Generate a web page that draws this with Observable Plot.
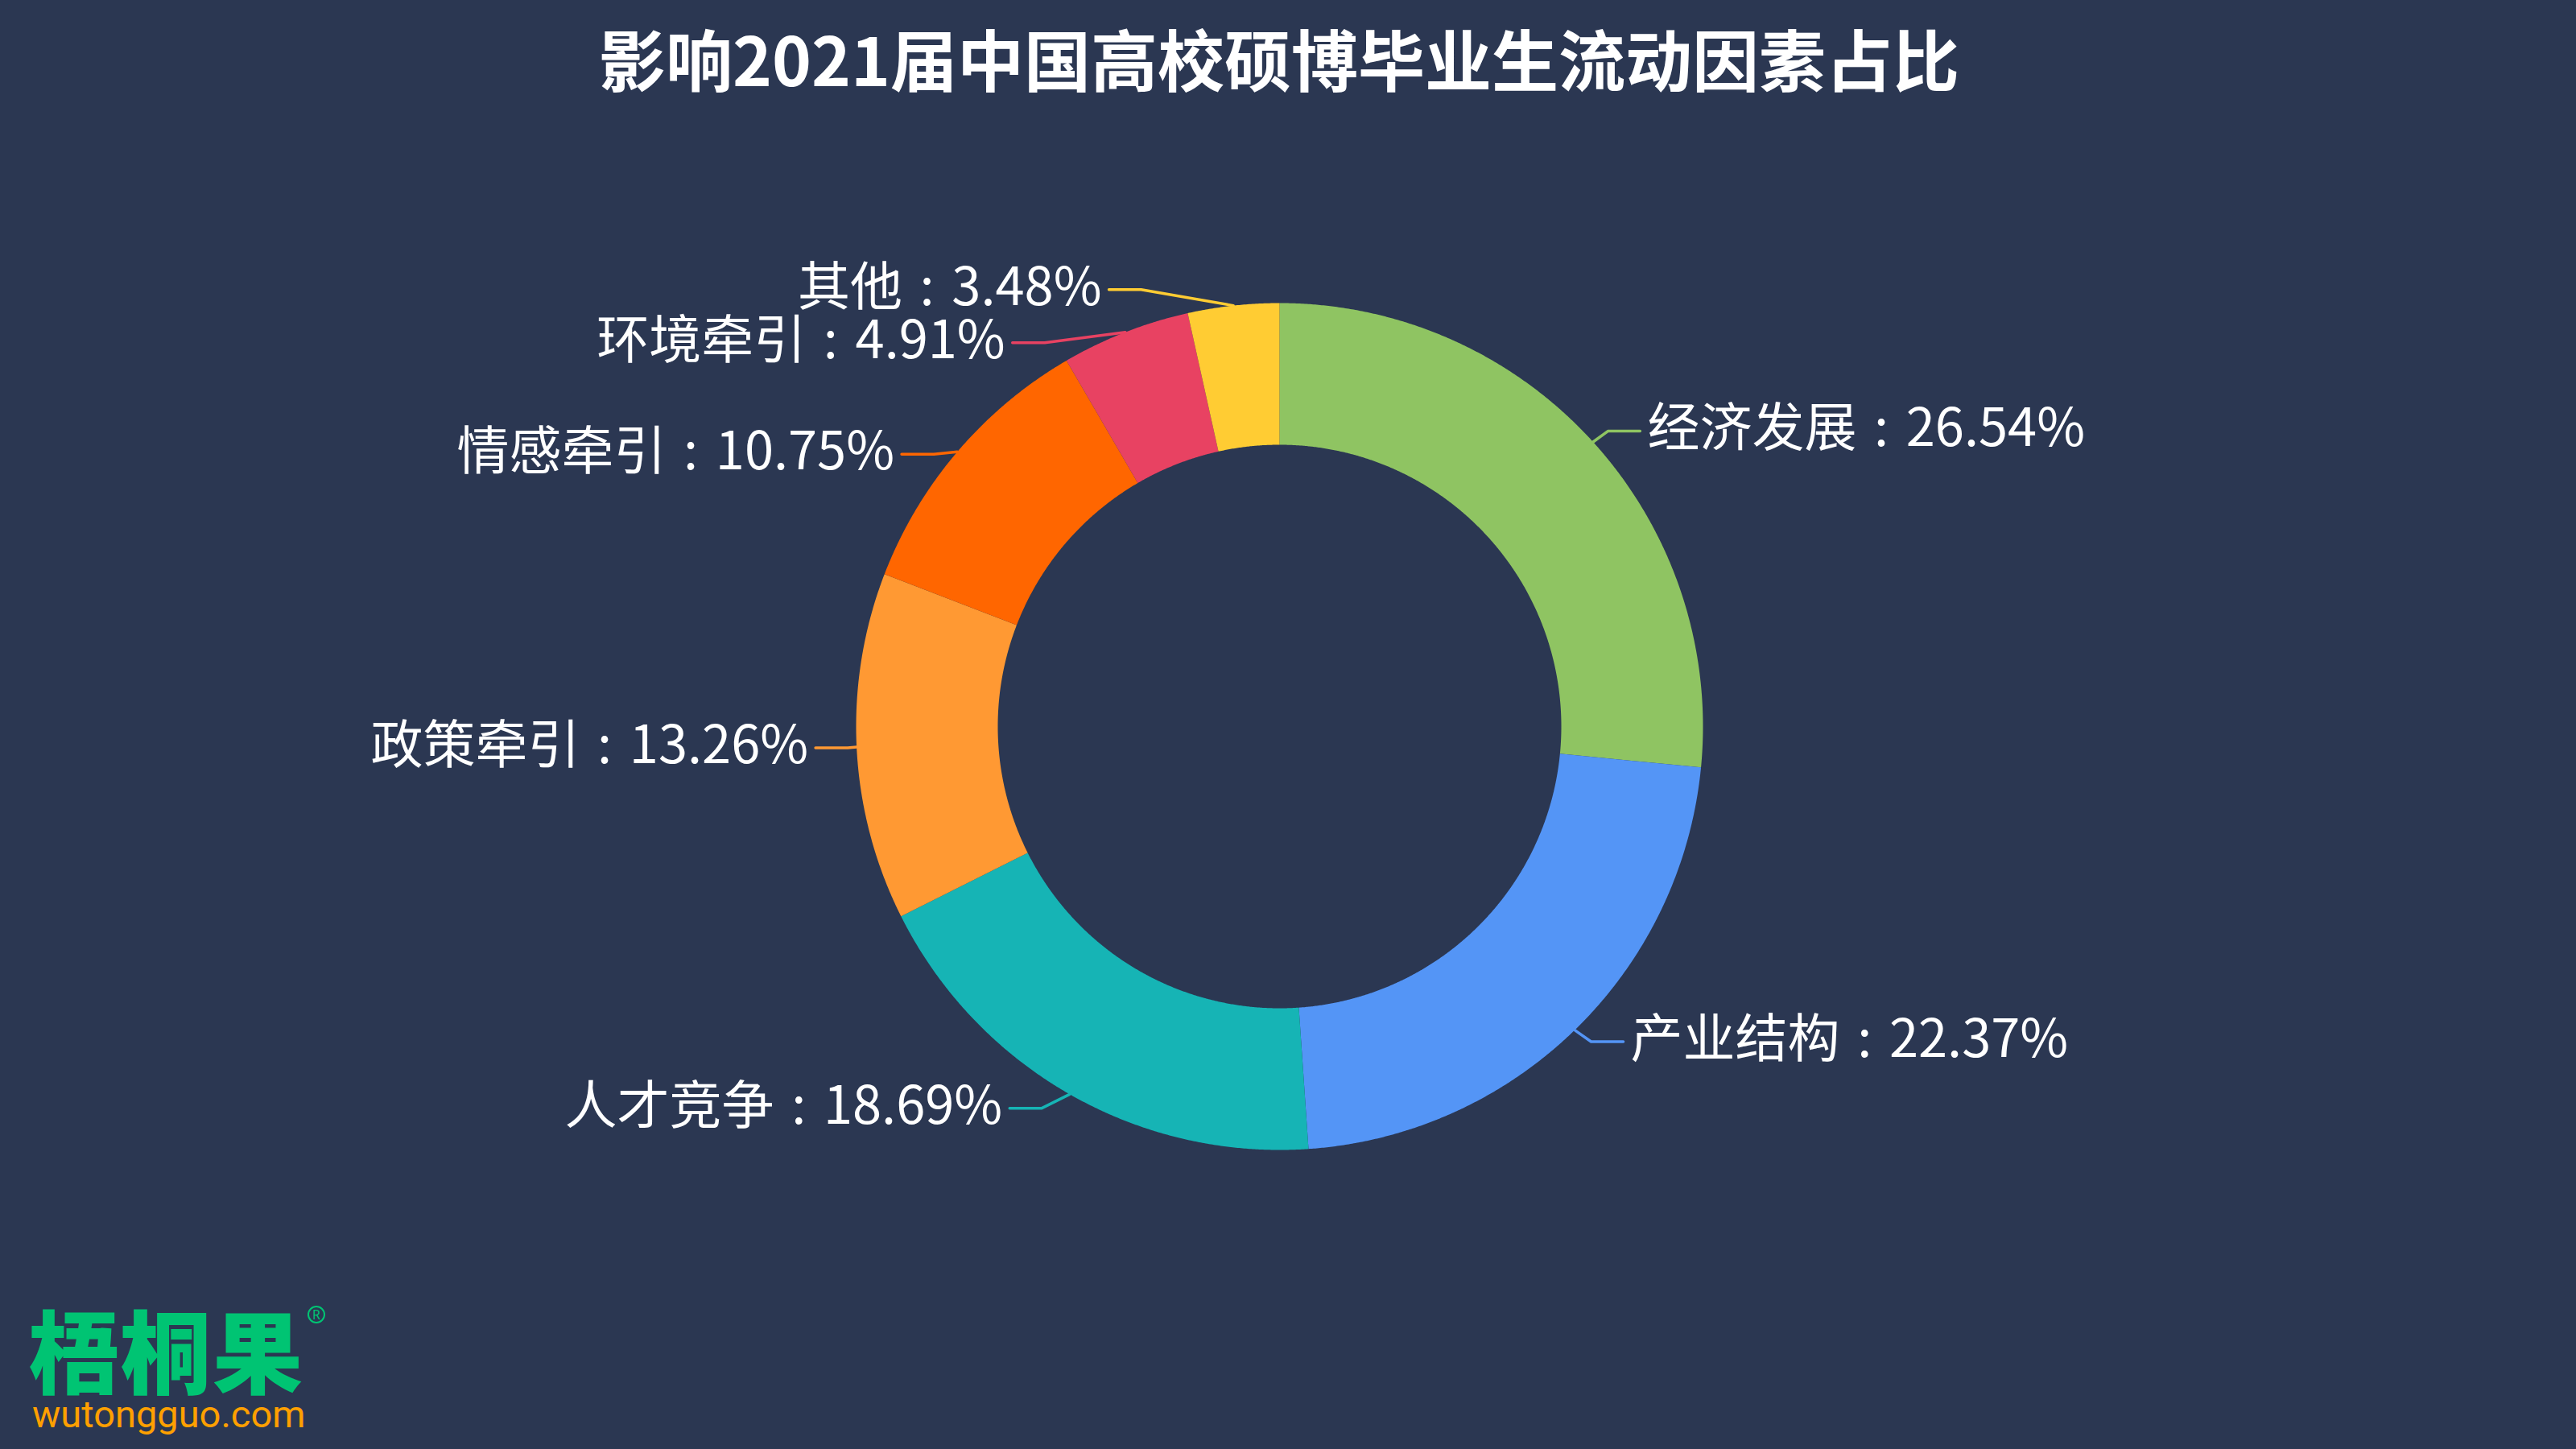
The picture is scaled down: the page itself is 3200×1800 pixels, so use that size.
<!DOCTYPE html>
<html>
<head>
<meta charset="utf-8">
<script src="https://cdn.jsdelivr.net/npm/d3@7"></script>
<script src="https://cdn.jsdelivr.net/npm/@observablehq/plot@0.6"></script>
<style>
  html, body { margin: 0; padding: 0; background: #2B3752; }
  #wrap { position: relative; width: 3200px; height: 1800px; background: #2B3752; overflow: hidden; }
  #title { position: absolute; left: 0; width: 3178px; top: 29px; text-align: center; color: #ffffff;
           font-family: "Noto Sans CJK SC", sans-serif; font-weight: 700; font-size: 83px; line-height: 84px; white-space: nowrap; }
  #chart { position: absolute; left: 0; top: 0; }
  #logo { position: absolute; left: 36px; top: 1618px; width: 420px; height: 170px; }
  #logo .cn { position: absolute; left: 0; top: 0; font-family: "Noto Sans CJK SC", sans-serif; font-weight: 900; font-size: 112px; line-height: 112px; color: #00C473; letter-spacing: 2px; white-space: nowrap; }
  #logo .reg { position: absolute; left: 346px; top: 4px; font-family: "Noto Sans", sans-serif; font-size: 16px; color: #00C473;
               border: 2px solid #00C473; border-radius: 50%; width: 18px; height: 18px; line-height: 18px; text-align: center; }
  #logo .en { position: absolute; left: 4px; top: 114px; font-family: Roboto, sans-serif; font-size: 47px; line-height: 50px; color: #FFA000; white-space: nowrap; }
</style>
</head>
<body>
<div id="wrap">
  <div id="chart"></div>
  <div id="title"></div>
  <div id="logo"><div class="cn">梧桐果</div><div class="reg">R</div><div class="en">wutongguo.com</div></div>
</div>
<script>
// ---- data ----
const titleText = "影响2021届中国高校硕博毕业生流动因素占比";
const categories = ["经济发展", "产业结构", "人才竞争", "政策牵引", "情感牵引", "环境牵引", "其他"];
const values = [26.54, 22.37, 18.69, 13.26, 10.75, 4.91, 3.48];
const colors = ["#8FC462", "#5495F6", "#16B4B5", "#FF9933", "#FF6600", "#E84262", "#FFCC33"];

document.getElementById("title").textContent = titleText;

// ---- layout constants ----
const W = 3200, H = 1800;
const cx = 1589, cy = 902, R = 526, R0 = 350;
const len1 = 20, len2 = 40, gap = 9, labelH = 66;

const rows = categories.map((c, i) => ({category: c, value: values[i]}));
const arcs = d3.pie().sort(null).value(d => d.value)(rows);

// ring slice outlines (from pie angles)
const slicePts = [];
arcs.forEach(a => {
  const n = Math.max(8, Math.ceil((a.endAngle - a.startAngle) / 0.004));
  for (let k = 0; k <= n; k++) {
    const t = a.startAngle + (a.endAngle - a.startAngle) * k / n;
    slicePts.push({category: a.data.category, x: cx + R * Math.sin(t), y: cy - R * Math.cos(t)});
  }
  for (let k = n; k >= 0; k--) {
    const t = a.startAngle + (a.endAngle - a.startAngle) * k / n;
    slicePts.push({category: a.data.category, x: cx + R0 * Math.sin(t), y: cy - R0 * Math.cos(t)});
  }
});

// outside labels with overlap avoidance
const labels = arcs.map(a => {
  const m = (a.startAngle + a.endAngle) / 2, s = Math.sin(m), c = Math.cos(m);
  return {
    category: a.data.category, value: a.data.value, dir: s < 0 ? -1 : 1,
    px: cx + R * s, py: cy - R * c,
    x: cx + (R + len1 + len2) * s, y: cy - (R + len1) * c, h: labelH
  };
});

function adjustSide(list, dir) {
  list.sort((a, b) => a.y - b.y);
  function shiftUp(end, delta) {
    for (let j = end; j >= 0; j--) {
      list[j].y -= delta;
      if (j > 0 && list[j].y > list[j - 1].y + list[j - 1].h) break;
    }
  }
  function shiftDown(start, end, delta) {
    for (let j = start; j < end; j++) {
      list[j].y += delta;
      if (j > start && j + 1 < end && list[j + 1].y > list[j].y + list[j].h) { shiftUp(j, delta / 2); return; }
    }
    shiftUp(end - 1, delta / 2);
  }
  let lastY = 0;
  for (let i = 0; i < list.length; i++) {
    const delta = list[i].y - lastY;
    if (delta < 0) shiftDown(i, list.length, -delta);
    lastY = list[i].y + list[i].h;
  }
  function changeX(arr, isDown) {
    let last = isDown ? Infinity : 0;
    for (const d of arr) {
      const dy = Math.abs(d.y - cy);
      let dx = dy < R + len1 ? Math.sqrt((R + len1 + len2) ** 2 - dy * dy) : Math.abs(d.x - cx);
      if (isDown && dx >= last) dx = last - 10;
      if (!isDown && dx <= last) dx = last + 10;
      d.x = cx + dx * dir;
      last = dx;
    }
  }
  changeX(list.filter(d => d.y < cy), false);
  changeX(list.filter(d => d.y >= cy), true);
}
adjustSide(labels.filter(d => d.dir < 0), -1);
adjustSide(labels.filter(d => d.dir > 0), 1);

const linePts = [];
labels.forEach(d => {
  const ex = d.x - d.dir * gap;
  linePts.push({category: d.category, x: d.px, y: d.py});
  linePts.push({category: d.category, x: ex - d.dir * len2, y: d.y});
  linePts.push({category: d.category, x: ex, y: d.y});
});

const fmt = d => `${d.category}\u2004:\u2004${d.value.toFixed(2)}%`;
const textOpts = {x: "x", y: "y", text: fmt, fill: "#ffffff", fontSize: 65,
  fontFamily: "'Noto Sans CJK SC', sans-serif", fontWeight: 400, lineAnchor: "middle", dy: -2};

const chart = Plot.plot({
  width: W, height: H,
  margin: 0,
  axis: null,
  x: {type: "identity"},
  y: {type: "identity"},
  color: {type: "ordinal", domain: categories, range: colors},
  style: {background: "transparent", overflow: "visible"},
  marks: [
    Plot.line(slicePts, {x: "x", y: "y", z: "category", fill: "category", stroke: null, curve: "linear"}),
    Plot.line(linePts, {x: "x", y: "y", z: "category", stroke: "category", strokeWidth: 3.5, curve: "linear"}),
    Plot.text(labels.filter(d => d.dir < 0), {...textOpts, textAnchor: "end"}),
    Plot.text(labels.filter(d => d.dir > 0), {...textOpts, textAnchor: "start"})
  ]
});
document.getElementById("chart").appendChild(chart);
</script>
</body>
</html>
